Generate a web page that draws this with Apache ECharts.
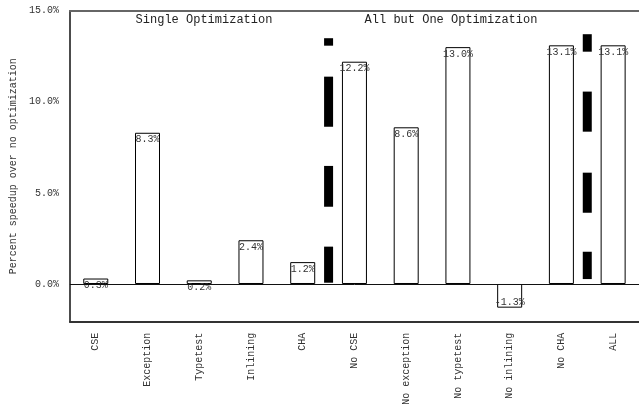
<!DOCTYPE html>
<html>
<head>
<meta charset="utf-8">
<script src="https://cdn.jsdelivr.net/npm/echarts@6/dist/echarts.min.js"></script>
<style>html,body{margin:0;padding:0;background:#fff}#c{width:639px;height:411px}</style>
</head>
<body>
<div id="c"></div>
<script>
const categories = ['CSE','Exception','Typetest','Inlining','CHA','No CSE','No exception','No typetest','No inlining','No CHA','ALL'];
const speedups = [0.3, 8.3, 0.2, 2.4, 1.2, 12.2, 8.6, 13.0, -1.3, 13.1, 13.1];
const yTicks = [0, 5, 10, 15];
const groupTitles = ['Single Optimization', 'All but One Optimization'];
// dashed separator segments (percent ranges), placed after category index
const separatorAfterCHA = [[0.07,2.05],[4.24,6.48],[8.63,11.38],[13.08,13.49]];
const separatorAfterNoCHA = [[0.27,1.77],[3.91,6.11],[8.36,10.56],[12.75,13.71]];

const FONT = 'Liberation Mono';
const sepData = [];
separatorAfterCHA.forEach(s => sepData.push([4, s[0], s[1]]));
separatorAfterNoCHA.forEach(s => sepData.push([9, s[0], s[1]]));

const chart = echarts.init(document.getElementById('c'), null, {renderer: 'canvas'});
chart.setOption({
  animation: false,
  backgroundColor: '#fff',
  title: [
    {text: groupTitles[0], left: 204, top: 14, padding: 0, textAlign: 'center',
     textStyle: {fontFamily: FONT, fontSize: 12, fontWeight: 'normal', color: '#222'}},
    {text: groupTitles[1], left: 451, top: 14, padding: 0, textAlign: 'center',
     textStyle: {fontFamily: FONT, fontSize: 12, fontWeight: 'normal', color: '#222'}}
  ],
  grid: {left: 68.5, right: -3.5, top: 10.7, bottom: 89.3, show: false},
  xAxis: [{
    type: 'category', data: categories,
    axisLine: {onZero: false, lineStyle: {color: '#333', width: 2}},
    axisTick: {show: false},
    axisLabel: {rotate: 90, margin: 11, fontFamily: FONT, fontSize: 10, color: '#333', interval: 0}
  }, {
    type: 'category', data: categories, position: 'top',
    axisLine: {onZero: false, lineStyle: {color: '#666', width: 2}},
    axisTick: {show: false}, axisLabel: {show: false}
  }],
  yAxis: {
    type: 'value', min: -2.07, max: 15,
    name: 'Percent speedup over no optimization', nameLocation: 'middle', nameGap: 50,
    nameTextStyle: {fontFamily: FONT, fontSize: 10, color: '#333'},
    axisLine: {show: true, lineStyle: {color: '#111', width: 1.5}},
    axisTick: {show: false},
    splitLine: {show: false},
    axisLabel: {customValues: yTicks, margin: 11, fontFamily: FONT, fontSize: 10, color: '#333',
      formatter: v => v.toFixed(1) + '%'}
  },
  series: [
    {
      type: 'bar', data: speedups.map(v => ({value: v, label: {position: v < 0 ? 'insideBottom' : 'insideTop', distance: v < 0 ? 0 : 2}})),
      barWidth: 25,
      itemStyle: {color: '#fff', borderColor: '#000', borderWidth: 1},
      label: {show: true, fontFamily: FONT, fontSize: 10, color: '#333', formatter: p => p.value.toFixed(1) + '%'},
      markLine: {silent: true, symbol: 'none', label: {show: false},
        lineStyle: {color: '#111', width: 1, type: 'solid'}, data: [{yAxis: 0}]},
      z: 2
    },
    {
      type: 'custom', data: sepData, encode: {x: 0, y: [1, 2]}, silent: true, z: 3,
      renderItem: function (params, api) {
        const i = api.value(0);
        const a = api.coord([i, api.value(1)]);
        const b = api.coord([i + 1, api.value(2)]);
        const cx = (a[0] + b[0]) / 2;
        return {type: 'rect', shape: {x: cx - 4.5, y: b[1], width: 9, height: a[1] - b[1]}, style: {fill: '#000'}};
      }
    }
  ]
});
</script>
</body>
</html>
